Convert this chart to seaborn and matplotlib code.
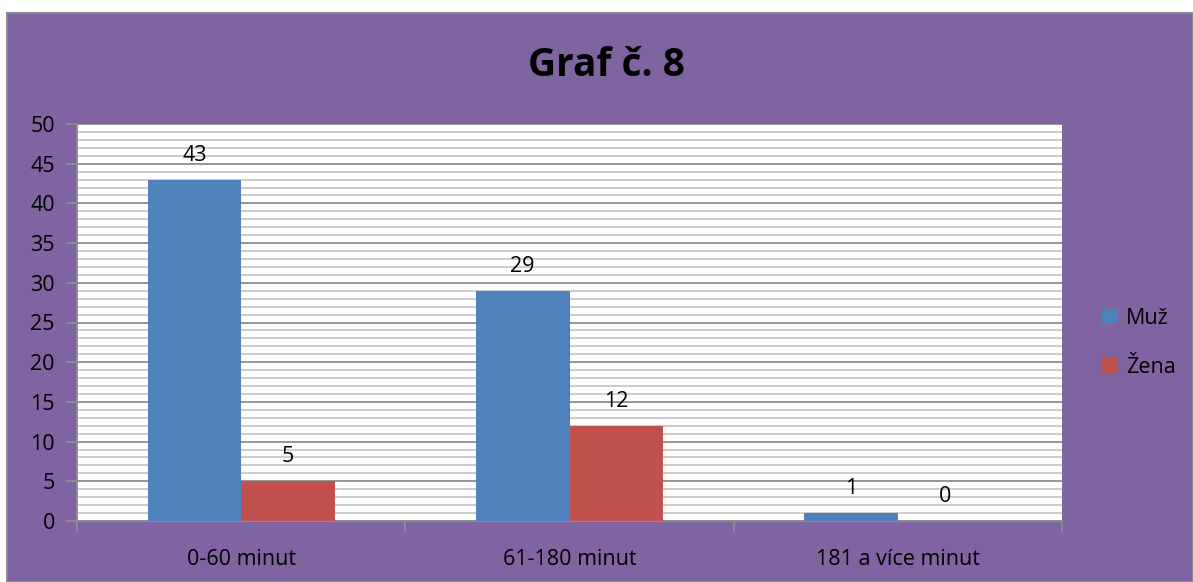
import matplotlib
matplotlib.use("Agg")
import matplotlib.pyplot as plt
import seaborn as sns
import pandas as pd
from matplotlib.patches import Rectangle, Patch
from matplotlib.ticker import MultipleLocator

categories = ["0-60 minut", "61-180 minut", "181 a více minut"]
muz = [43, 29, 1]
zena = [5, 12, 0]
series_names = ["Muž", "Žena"]
colors = ["#4F81BD", "#C0504D"]

df = pd.DataFrame({
    "cat": categories * 2,
    "val": muz + zena,
    "pohlavi": [series_names[0]] * 3 + [series_names[1]] * 3,
})

sns.set_theme(style="white")
plt.rcParams["font.family"] = ["Open Sans", "DejaVu Sans"]

fig = plt.figure(figsize=(11.93, 5.82), dpi=100)
fig.patch.set_facecolor("white")
purple = "#8064A2"
fig.patches.append(Rectangle((7 / 1193, 0), 1 - 7 / 1193, 1 - 13 / 582, transform=fig.transFigure,
                             facecolor=purple, edgecolor="#8a8a8a", linewidth=1.5, zorder=-10))

ax = fig.add_axes([77 / 1193, 1 - 521 / 582, (1062 - 77) / 1193, (521 - 124) / 582])
ax.set_facecolor("white")

sns.barplot(data=df, x="cat", y="val", hue="pohlavi", palette=colors, ax=ax,
            width=0.57, saturation=1, legend=False, zorder=3, linewidth=0)

ax.set_ylim(0, 50)
ax.set_xlim(-0.5, 2.5)
ax.yaxis.set_major_locator(MultipleLocator(5))
ax.yaxis.set_minor_locator(MultipleLocator(1))
ax.grid(which="minor", axis="y", color="#c8c8c8", linewidth=1.3, zorder=0)
ax.grid(which="major", axis="y", color="#8c8c8c", linewidth=1.3, zorder=0)
ax.set_axisbelow(True)

for s in ["top", "right"]:
    ax.spines[s].set_visible(False)
ax.spines["left"].set_color("#8c8c8c")
ax.spines["bottom"].set_color("#8c8c8c")
ax.spines["left"].set_linewidth(1.3)
ax.spines["bottom"].set_linewidth(1.3)

ax.set_xlabel("")
ax.set_ylabel("")
ax.tick_params(axis="y", which="major", left=True, length=8, width=1.3, color="#8c8c8c",
               labelsize=15.5, labelcolor="black", pad=8)
ax.tick_params(axis="y", which="minor", left=False)
ax.set_xticks([0, 1, 2])
ax.set_xticklabels(categories)
ax.tick_params(axis="x", which="major", bottom=False, labelsize=15.5, labelcolor="black", pad=14)
for xb in [-0.5, 0.5, 1.5, 2.5]:
    ax.plot([xb, xb], [0, -0.025], transform=ax.get_xaxis_transform(), color="#8c8c8c",
            linewidth=1.3, clip_on=False)

for cont in ax.containers:
    ax.bar_label(cont, labels=[f"{int(v)}" for v in cont.datavalues], padding=10, fontsize=15.5,
                 color="black")

fig.text(606 / 1193, 1 - 66 / 582, "Graf č. 8", ha="center", va="center", fontsize=28,
         fontweight="bold", color="black")

handles = [Patch(facecolor=c, edgecolor="none") for c in colors]
fig.legend(handles, series_names, loc="center left", bbox_to_anchor=(1102 / 1193, 1 - 343 / 582),
           frameon=False, fontsize=15.5, handlelength=0.75, handleheight=0.75, handletextpad=0.35,
           labelspacing=1.3, labelcolor="black", borderpad=0, borderaxespad=0)

fig.savefig("out.png", dpi=100, facecolor=fig.get_facecolor())
